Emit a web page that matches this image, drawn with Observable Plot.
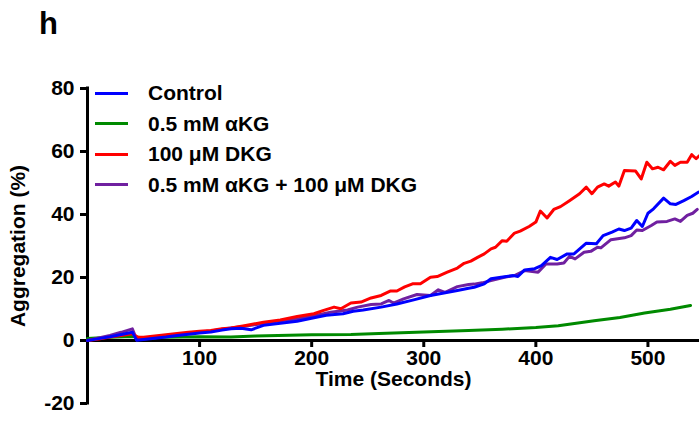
<!DOCTYPE html>
<html>
<head>
<meta charset="utf-8">
<script src="https://cdn.jsdelivr.net/npm/d3@7"></script>
<script src="https://cdn.jsdelivr.net/npm/@observablehq/plot@0.6"></script>
<style>
  body { margin: 0; background: #fff; }
  #wrap { position: relative; width: 699px; height: 423px; font-family: "Liberation Sans", Arial, sans-serif; font-weight: bold; color: #000; }
  #panel { position: absolute; left: 39px; top: 8px; font-size: 31px; line-height: 1; }
  #legend { position: absolute; left: 95px; top: 78px; font-size: 21px; }
  .row { display: flex; align-items: center; height: 30.5px; white-space: nowrap; }
  .sw { width: 33px; height: 3px; margin-right: 20px; }
</style>
</head>
<body>
<div id="wrap">
  <div id="chart"></div>
  <div id="panel">h</div>
  <div id="legend"></div>
</div>
<script>
// ---- data ----
const seriesNames = ["Control", "0.5 mM αKG", "100 μM DKG", "0.5 mM αKG + 100 μM DKG"];
const seriesColors = ["#0000ff", "#008a00", "#ff0000", "#7020a0"];

const controlT = [0,10,20,30,40,44,50,60,70,80,90,100,110,120,128,137,146,157,172,187,202,213,228,237,246,262,276,291,306,318,330,340,345,354,360,369,380,384,390,399,405,413,419,428,434,445,454,460,468,474,479,485,490,495,500,505,514,520,525,532,539,545];
const controlV = [0,0.6,1.2,1.9,2.6,0.1,0.3,0.7,1.1,1.6,2.0,2.4,2.7,3.3,3.7,3.9,3.4,4.8,5.5,6.1,7.2,8.0,8.5,9.3,9.7,10.6,11.6,12.9,14.3,15.1,15.9,16.6,16.9,18.0,19.6,20.1,20.6,20.3,22.4,22.8,23.8,26.4,25.7,27.5,27.5,30.9,30.7,33.3,34.4,35.4,34.9,35.7,38.1,36.2,40.4,41.8,45.2,43.4,43.2,44.4,45.7,47.1];

const akgT = [0,20,40,50,70,100,128,150,200,235,260,300,340,370,400,420,452,475,497,520,538];
const akgV = [0.6,1.0,1.3,0.8,1.0,1.2,1.1,1.4,1.8,1.9,2.2,2.7,3.2,3.6,4.1,4.7,6.3,7.3,8.7,9.9,11.1];

const dkgT = [0,10,20,30,40,45,50,60,70,80,90,100,110,120,128,140,157,172,187,202,210,220,226,235,244,253,262,270,276,283,290,297,306,312,321,330,336,342,348,354,360,364,370,374,381,386,394,400,404,410,416,422,430,439,445,450,455,461,465,471,474,479,489,494,499,504,509,514,520,524,529,535,539,543,546];
const dkgV = [0,0.5,1.1,1.6,2.1,1.0,1.0,1.4,1.8,2.2,2.6,2.9,3.2,3.7,4.0,4.7,5.8,6.5,7.6,8.5,9.5,10.6,10.1,11.9,12.2,13.5,14.3,15.7,15.7,17.0,18.0,18.0,20.1,20.3,21.7,23.0,24.5,25.2,26.4,27.5,29.1,29.6,31.7,31.5,34.1,34.7,36.2,37.6,41.1,38.9,41.6,42.5,44.4,46.6,48.7,46.6,48.7,49.7,49.0,50.3,49.0,54.0,53.8,51.3,56.6,54.5,55.0,54.2,56.9,55.6,56.6,56.6,59.0,57.7,58.7];

const bothT = [0,10,20,30,40,44,50,60,70,80,90,100,110,120,128,146,160,172,187,202,217,232,241,253,262,269,273,282,294,306,313,319,330,340,345,352,360,372,381,390,402,409,419,425,430,435,443,449,455,458,467,479,485,490,495,503,508,517,524,529,535,540,544];
const bothV = [0,0.8,1.6,2.6,3.7,0.2,0.5,0.9,1.3,1.8,2.2,2.7,3.0,3.6,4.0,4.8,5.6,6.3,6.8,7.9,9.0,9.7,10.6,11.4,11.6,12.7,11.9,13.2,14.6,14.3,16.1,15.3,17.1,17.8,17.9,18.3,19.0,20.1,20.6,22.2,21.7,24.3,24.3,24.6,26.7,25.9,28.0,28.3,29.6,29.4,32.0,32.6,33.3,35.1,34.9,36.5,37.6,37.8,38.6,37.8,39.7,40.4,41.6];

const xTicks = [100, 200, 300, 400, 500];
const yTicks = [-20, 0, 20, 40, 60, 80];
const xDomain = [0, 546];
const yDomain = [-20, 80];
const xLabel = "Time (Seconds)";
const yLabel = "Aggregation (%)";

// ---- build table (drawing order: green, purple, red, blue) ----
function rowsOf(name, T, V) { return T.map((t, i) => ({series: name, t, v: V[i]})); }
const rows = [
  ...rowsOf(seriesNames[1], akgT, akgV),
  ...rowsOf(seriesNames[3], bothT, bothV),
  ...rowsOf(seriesNames[2], dkgT, dkgV),
  ...rowsOf(seriesNames[0], controlT, controlV)
];

const chart = Plot.plot({
  width: 699,
  height: 423,
  marginLeft: 87,
  marginRight: 0,
  marginTop: 88,
  marginBottom: 20,
  x: {domain: xDomain, axis: null},
  y: {domain: yDomain, axis: null},
  color: {domain: seriesNames, range: seriesColors},
  style: {fontFamily: '"Liberation Sans", Arial, sans-serif', fontSize: "21px", fontWeight: "bold", color: "#000", background: "#fff", overflow: "visible"},
  marks: [
    Plot.ruleY([0], {strokeWidth: 3, stroke: "#000"}),
    Plot.ruleX(xTicks, {x: d => d, y1: () => 0, y2: () => 0, insetBottom: -7, strokeWidth: 3, stroke: "#000"}),
    Plot.text(xTicks, {x: d => d, y: () => 0, dy: 18, text: d => String(d), fill: "#000"}),
    Plot.ruleX([xDomain[0]], {y1: () => yDomain[0], y2: () => yDomain[1], strokeWidth: 3, stroke: "#000", strokeLinecap: "square"}),
    Plot.axisY({ticks: yTicks, tickSize: 7, tickPadding: 6, strokeWidth: 3, label: null, tickFormat: d => String(d)}),
    Plot.text([xLabel], {x: () => (xDomain[0] + xDomain[1]) / 2, frameAnchor: "bottom", lineAnchor: "middle", textAnchor: "middle", dy: -24, text: d => d, fill: "#000"}),
    Plot.text([yLabel], {frameAnchor: "left", textAnchor: "middle", lineAnchor: "middle", dx: -69, rotate: -90, text: d => d, fill: "#000"}),
    Plot.line(rows, {x: "t", y: "v", z: "series", stroke: "series", strokeWidth: 3, strokeLinejoin: "round", strokeLinecap: "round"})
  ]
});
document.getElementById("chart").appendChild(chart);

// ---- legend ----
const legend = document.getElementById("legend");
seriesNames.forEach((name, i) => {
  const row = document.createElement("div");
  row.className = "row";
  const sw = document.createElement("div");
  sw.className = "sw";
  sw.style.background = seriesColors[i];
  const label = document.createElement("span");
  label.textContent = name;
  row.appendChild(sw);
  row.appendChild(label);
  legend.appendChild(row);
});
</script>
</body>
</html>
